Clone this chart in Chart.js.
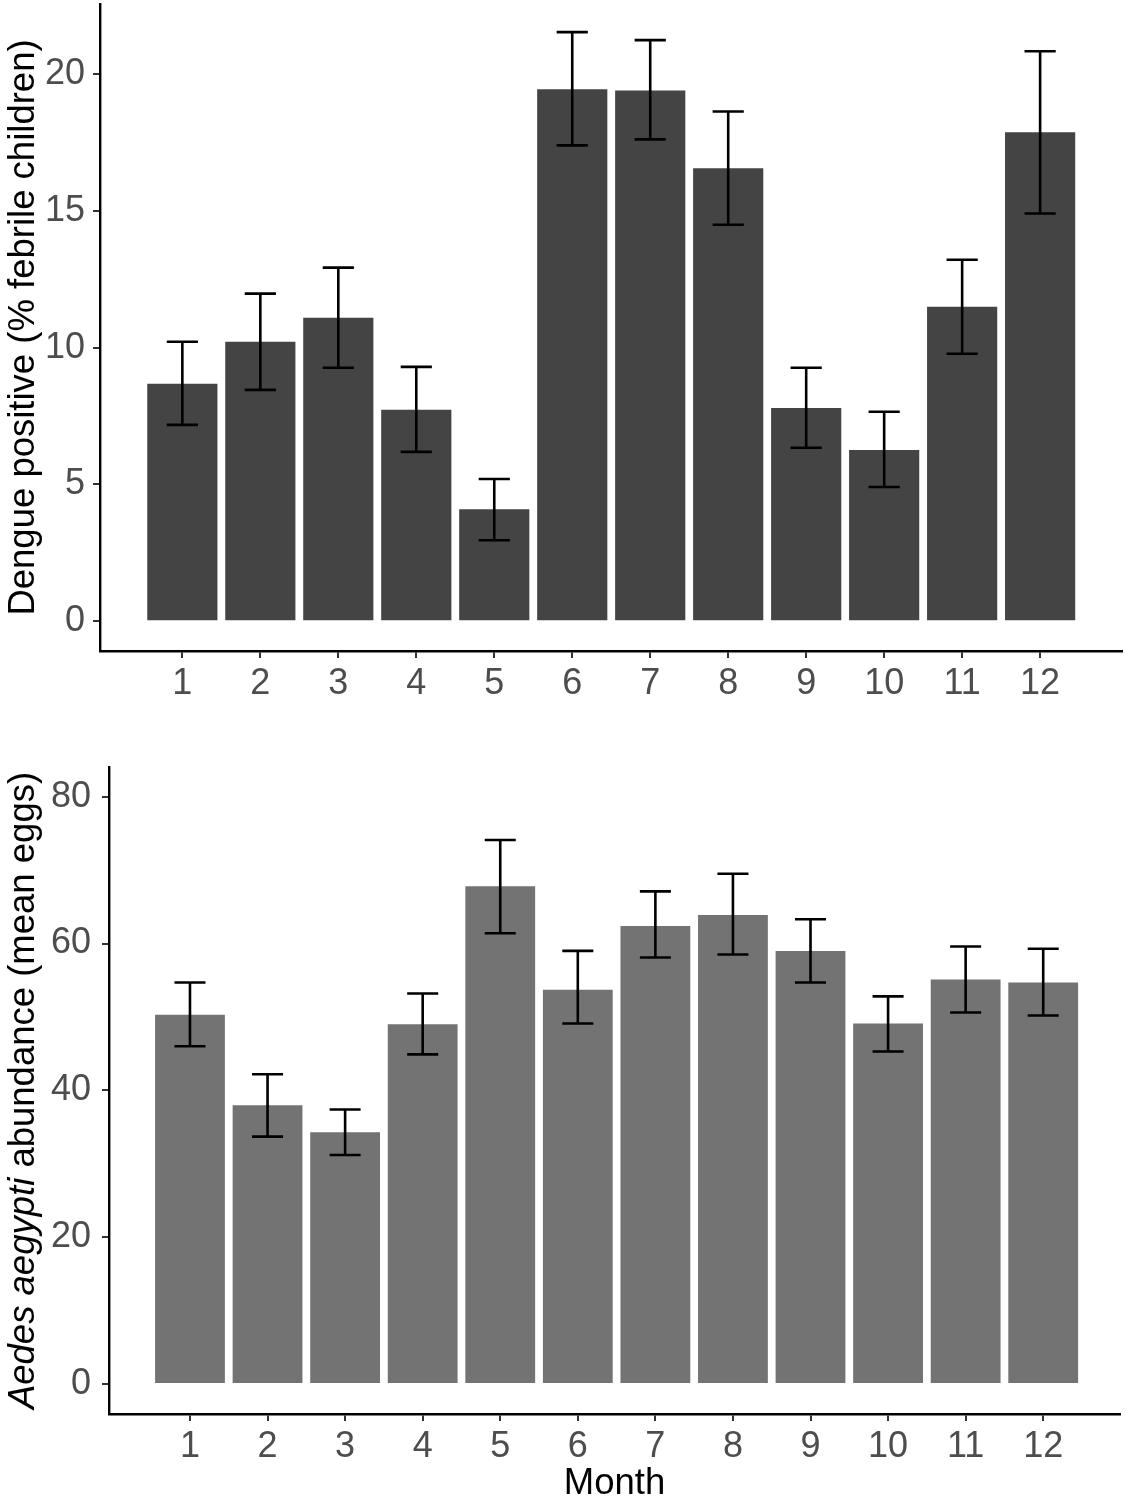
<!DOCTYPE html>
<html lang="en">
<head>
  <meta charset="UTF-8" />
  <title>Dengue and Aedes aegypti by month</title>
  <script src="https://cdn.jsdelivr.net/npm/chart.js"></script>
  <style>
    body { margin: 0; background: #fff; }
    #wrap { position: relative; width: 1126px; height: 1500px; }
    canvas { position: absolute; left: 0; }
    #topChart { top: 0; }
    #bottomChart { top: 720px; }
  </style>
</head>
<body>
<div id="wrap">
  <canvas id="topChart" width="1126" height="720"></canvas>
  <canvas id="bottomChart" width="1126" height="780"></canvas>
</div>

<script>
  const months = [1, 2, 3, 4, 5, 6, 7, 8, 9, 10, 11, 12];

  // dengue positive, % of febrile children
  const dengueMean = [8.68, 10.22, 11.1, 7.73, 4.09, 19.45, 19.41, 16.56, 7.8, 6.26, 11.5, 17.88];
  const dengueLow  = [7.18, 8.46, 9.27, 6.19, 2.96, 17.4, 17.62, 14.5, 6.34, 4.91, 9.78, 14.91];
  const dengueHigh = [10.22, 11.98, 12.93, 9.3, 5.2, 21.54, 21.25, 18.64, 9.27, 7.66, 13.22, 20.84];
  const dengueTicks = [0, 5, 10, 15, 20];

  // Aedes aegypti abundance, mean eggs
  const eggMean = [50.3, 37.96, 34.3, 49.0, 67.8, 53.7, 62.4, 63.9, 59.0, 49.1, 55.1, 54.7];
  const eggLow  = [46.0, 33.7, 31.2, 44.9, 61.4, 49.1, 58.1, 58.5, 54.7, 45.3, 50.6, 50.2];
  const eggHigh = [54.7, 42.2, 37.4, 53.2, 74.1, 59.0, 67.1, 69.5, 63.3, 52.8, 59.6, 59.3];
  const eggTicks = [0, 20, 40, 60, 80];

  const FONT = "'Liberation Sans', Arial, Helvetica, sans-serif";
  const TITLE_SIZE = 36.5;

  // draws the error bars and the axis titles
  const extras = {
    id: 'extras',
    afterDatasetsDraw(chart, args, opts) {
      const ctx = chart.ctx;
      const x = chart.scales.x, y = chart.scales.y;
      ctx.save();
      ctx.strokeStyle = '#000';
      ctx.lineWidth = 2.6;
      opts.low.forEach((lo, i) => {
        const px = x.getPixelForValue(months[i]);
        const half = (x.getPixelForValue(1.2) - x.getPixelForValue(1));
        const yLo = y.getPixelForValue(lo), yHi = y.getPixelForValue(opts.high[i]);
        ctx.beginPath();
        ctx.moveTo(px, yLo); ctx.lineTo(px, yHi);
        ctx.moveTo(px - half, yLo); ctx.lineTo(px + half, yLo);
        ctx.moveTo(px - half, yHi); ctx.lineTo(px + half, yHi);
        ctx.stroke();
      });

      // y title, rotated, centred on the panel
      const area = chart.chartArea;
      const cy = (area.top + area.bottom) / 2;
      ctx.fillStyle = '#000';
      ctx.translate(opts.titleX, cy);
      ctx.rotate(-Math.PI / 2);
      ctx.textBaseline = 'middle';
      ctx.textAlign = 'left';
      let total = 0;
      opts.title.forEach(p => {
        ctx.font = (p.italic ? 'italic ' : '') + TITLE_SIZE + 'px ' + FONT;
        total += ctx.measureText(p.text).width;
      });
      let pos = -total / 2;
      opts.title.forEach(p => {
        ctx.font = (p.italic ? 'italic ' : '') + TITLE_SIZE + 'px ' + FONT;
        ctx.fillText(p.text, pos, 0);
        pos += ctx.measureText(p.text).width;
      });
      ctx.restore();

      if (opts.xTitle) {
        ctx.save();
        ctx.fillStyle = '#000';
        ctx.font = TITLE_SIZE + 'px ' + FONT;
        ctx.textAlign = 'center';
        ctx.textBaseline = 'middle';
        ctx.fillText(opts.xTitle, (area.left + area.right) / 2, opts.xTitleY);
        ctx.restore();
      }
    }
  };

  function noPad(s) {
    s.paddingTop = 0; s.paddingBottom = 0;
    s.paddingLeft = 0; s.paddingRight = 0;
  }

  function makeChart(id, cfg) {
    return new Chart(document.getElementById(id), {
      type: 'bar',
      data: {
        datasets: [{
          data: months.map((m, i) => ({ x: m, y: cfg.mean[i] })),
          backgroundColor: cfg.color,
          barPercentage: 0.9,
          categoryPercentage: 1.0
        }]
      },
      options: {
        responsive: false,
        animation: false,
        devicePixelRatio: 1,
        layout: { padding: cfg.padding },
        plugins: {
          legend: { display: false },
          tooltip: { enabled: false },
          extras: cfg.extras
        },
        scales: {
          x: {
            type: 'linear',
            offset: false,
            min: cfg.xMin, max: cfg.xMax,
            afterBuildTicks: s => { s.ticks = months.map(v => ({ value: v })); },
            afterFit: s => { s.height = cfg.xHeight; noPad(s); },
            grid: { offset: false, drawOnChartArea: false, drawTicks: true, tickLength: 7, tickColor: '#333', lineWidth: 2 },
            border: { display: true, color: '#000', width: 2.4 },
            ticks: { font: { family: FONT, size: 36 }, color: '#4d4d4d', padding: 4, maxRotation: 0, autoSkip: false }
          },
          y: {
            min: cfg.yMin, max: cfg.yMax,
            afterBuildTicks: s => { s.ticks = cfg.yTicks.map(v => ({ value: v })); },
            afterFit: s => { s.width = cfg.yWidth; noPad(s); },
            grid: { drawOnChartArea: false, drawTicks: true, tickLength: 7, tickColor: '#333', lineWidth: 2 },
            border: { display: true, color: '#000', width: 2.4 },
            ticks: { font: { family: FONT, size: 36 }, color: '#4d4d4d', padding: cfg.yPad }
          }
        }
      },
      plugins: [extras]
    });
  }

  makeChart('topChart', {
    mean: dengueMean, color: '#444444',
    padding: { top: 4, right: 4, left: 0, bottom: 0 },
    xMin: -0.056, xMax: 13.05, xHeight: 69,
    yMin: -1.09, yMax: 22.57, yWidth: 100, yTicks: dengueTicks, yPad: 8,
    extras: {
      low: dengueLow, high: dengueHigh, titleX: 24,
      title: [{ text: 'Dengue positive (% febrile children)' }]
    }
  });

  makeChart('bottomChart', {
    mean: eggMean, color: '#737373',
    padding: { top: 47, right: 6, left: 0, bottom: 0 },
    xMin: -0.044, xMax: 12.99, xHeight: 86,
    yMin: -4.09, yMax: 84.05, yWidth: 109, yTicks: eggTicks, yPad: 11,
    extras: {
      low: eggLow, high: eggHigh, titleX: 24,
      title: [{ text: 'Aedes aegypti', italic: true }, { text: ' abundance (mean eggs)' }],
      xTitle: 'Month', xTitleY: 764
    }
  });
</script>
</body>
</html>
